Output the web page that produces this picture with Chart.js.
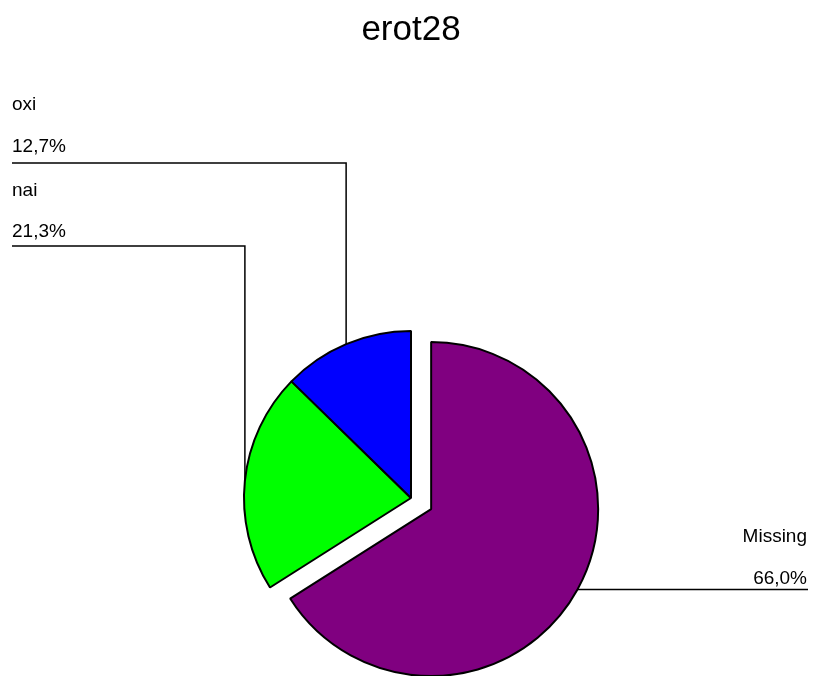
<!DOCTYPE html>
<html>
<head>
<meta charset="utf-8">
<script src="https://cdn.jsdelivr.net/npm/chart.js@4"></script>
<style>
  html, body { margin: 0; padding: 0; background: #fff; }
  #wrap { width: 813px; height: 676px; }
</style>
</head>
<body>
<div id="wrap"><canvas id="grafico"></canvas></div>
<script>
// Dados do gráfico (percentagens)
const categorias = ['Missing', 'nai', 'oxi'];
const valores = [66.0, 21.3, 12.7];
const cores = ['#800080', '#00ff00', '#0000ff'];
const destaque = [23, 0, 0]; // deslocamento (px) da fatia destacada

// Posição dos rótulos: lado, linha base do nome, do valor e da linha guia
const rotulos = [
  { lado: 'direita', yNome: 542, yValor: 584 },
  { lado: 'esquerda', yNome: 196, yValor: 237, yLinha: 246 },
  { lado: 'esquerda', yNome: 110, yValor: 152, yLinha: 163 }
];

const fonte = '"Liberation Sans", Arial, sans-serif';

function formatarPct(v) {
  return v.toFixed(1).replace('.', ',') + '%';
}

// Desloca a fatia destacada a partir do centro do gráfico
const explodir = {
  id: 'explodir',
  afterDatasetsUpdate(chart) {
    const area = chart.chartArea;
    const cx = (area.left + area.right) / 2;
    const cy = (area.top + area.bottom) / 2;
    chart.getDatasetMeta(0).data.forEach((arc, i) => {
      const meio = (arc.startAngle + arc.endAngle) / 2;
      arc.x = cx + Math.cos(meio) * destaque[i];
      arc.y = cy + Math.sin(meio) * destaque[i];
    });
  }
};

// Rótulos com linhas guia
const rotulosPlugin = {
  id: 'rotulos',
  afterDraw(chart) {
    const ctx = chart.ctx;
    const meta = chart.getDatasetMeta(0);
    const largura = chart.width;
    ctx.save();
    ctx.font = '19px ' + fonte;
    ctx.fillStyle = '#000';
    ctx.strokeStyle = '#000';
    ctx.lineWidth = 1.5;
    meta.data.forEach((arc, i) => {
      const r = rotulos[i];
      const meio = (arc.startAngle + arc.endAngle) / 2;
      const ax = arc.x + Math.cos(meio) * arc.outerRadius;
      const ay = arc.y + Math.sin(meio) * arc.outerRadius;

      ctx.beginPath();
      if (r.lado === 'esquerda') {
        ctx.moveTo(ax, ay);
        ctx.lineTo(ax, r.yLinha);
        ctx.lineTo(12, r.yLinha);
        ctx.stroke();
        ctx.textAlign = 'left';
        ctx.fillText(categorias[i], 12, r.yNome);
        ctx.fillText(formatarPct(valores[i]), 12, r.yValor);
      } else {
        ctx.moveTo(ax, ay);
        ctx.lineTo(largura - 5, ay);
        ctx.stroke();
        ctx.textAlign = 'right';
        ctx.fillText(categorias[i], largura - 6, r.yNome);
        ctx.fillText(formatarPct(valores[i]), largura - 6, r.yValor);
      }
    });
    ctx.restore();
  }
};

const ctx = document.getElementById('grafico').getContext('2d');
const chart = new Chart(ctx, {
  type: 'pie',
  data: {
    labels: categorias,
    datasets: [{
      data: valores,
      backgroundColor: cores,
      borderColor: '#000',
      borderWidth: 2,
      hoverOffset: 0,
      clip: false
    }]
  },
  options: {
    responsive: true,
    maintainAspectRatio: false,
    animation: false,
    radius: 167,
    layout: { padding: { left: 9, right: 0, top: 0, bottom: 0 } },
    plugins: {
      legend: { display: false },
      tooltip: { enabled: false },
      title: {
        display: true,
        text: 'erot28',
        color: '#000',
        font: { family: fonte, size: 35, weight: 'normal' },
        padding: { top: 9, bottom: 269 }
      }
    }
  },
  plugins: [explodir, rotulosPlugin]
});
</script>
</body>
</html>
